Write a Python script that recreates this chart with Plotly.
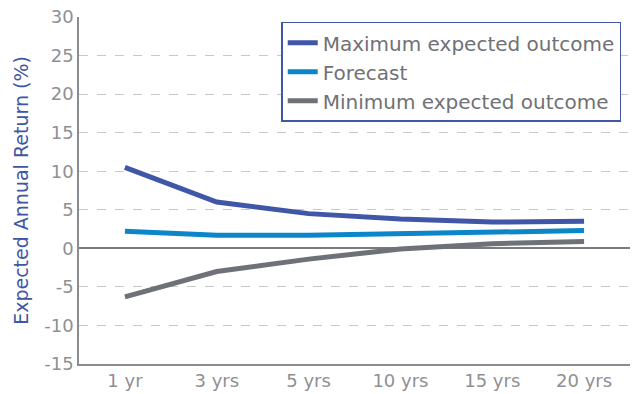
import plotly.graph_objects as go

horizons = ["1 yr", "3 yrs", "5 yrs", "10 yrs", "15 yrs", "20 yrs"]
max_expected = [10.5, 6.0, 4.5, 3.8, 3.4, 3.5]
forecast = [2.2, 1.7, 1.7, 1.9, 2.1, 2.3]
min_expected = [-6.3, -3.0, -1.4, -0.1, 0.6, 0.9]
y_ticks = [30, 25, 20, 15, 10, 5, 0, -5, -10, -15]
y_tick_labels = ["30", "25", "20", "15", "10", "5", "0", "-5", "-10", "-15"]

series = [
    ("Maximum expected outcome", max_expected, "#4056a6"),
    ("Forecast", forecast, "#0a86c9"),
    ("Minimum expected outcome", min_expected, "#6e7178"),
]

fig = go.Figure()
for name, vals, color in series:
    fig.add_trace(go.Scatter(
        x=horizons, y=vals, name=name, mode="lines",
        line=dict(color=color, width=5),
    ))

font_family = "DejaVu Sans, Arial, sans-serif"
tick_color = "#8e9094"

fig.update_layout(
    width=633, height=394,
    margin=dict(l=79, r=3, t=17, b=30),
    plot_bgcolor="white", paper_bgcolor="white",
    font=dict(family=font_family, size=18, color=tick_color),
    showlegend=True,
    legend=dict(
        x=0.367, y=0.986, xanchor="left", yanchor="top",
        bordercolor="#4056a6", borderwidth=1.5, bgcolor="white",
        font=dict(size=20, color="#707175"),
        itemwidth=30, tracegroupgap=0,
    ),
    xaxis=dict(
        type="category", range=[-0.5, 5.5],
        showgrid=False, showline=True, linecolor="#8a8c90", linewidth=1.5,
        ticks="", tickfont=dict(size=18, color=tick_color),
    ),
    yaxis=dict(
        range=[-15, 30], tickvals=y_ticks, ticktext=y_tick_labels,
        showgrid=True, gridcolor="#c8c8c8", griddash="dash", gridwidth=1,
        zeroline=True, zerolinecolor="#7a7b7e", zerolinewidth=1.5,
        showline=True, linecolor="#8a8c90", linewidth=1.5,
        ticks="", tickfont=dict(size=18, color=tick_color),
        title=dict(text="Expected Annual Return (%)",
                   font=dict(size=19, color="#4056a6"), standoff=11),
    ),
)

fig.write_html("out.html")
